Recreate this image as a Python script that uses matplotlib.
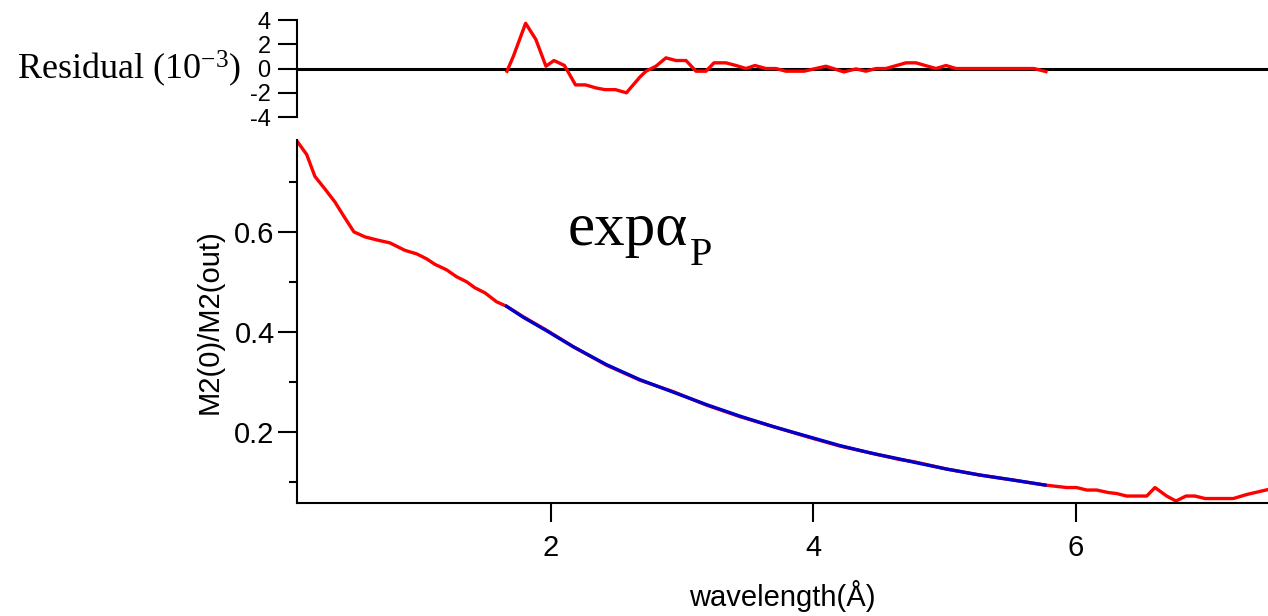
import matplotlib
matplotlib.use("Agg")
import matplotlib.pyplot as plt
from matplotlib.ticker import MultipleLocator

plt.rcParams["font.family"] = ["Liberation Sans", "DejaVu Sans"]
plt.rcParams["axes.unicode_minus"] = False
plt.rcParams["mathtext.fontset"] = "custom"
plt.rcParams["mathtext.rm"] = "Liberation Serif"
plt.rcParams["mathtext.it"] = "Liberation Serif:italic"

# measured curve M2(0)/M2(out) vs wavelength
wavelength = [
    0.065, 0.139, 0.202, 0.278, 0.354, 0.418, 0.499, 0.583, 0.672, 0.773,
    0.888, 0.977, 1.053, 1.116, 1.205, 1.282, 1.358, 1.421, 1.497, 1.586,
    1.662, 1.789, 1.967, 2.170, 2.424, 2.678, 2.932, 3.186, 3.440, 3.694,
    3.948, 4.202, 4.456, 4.659, 4.760, 5.015, 5.269, 5.522, 5.764, 5.929,
    6.005, 6.082, 6.158, 6.246, 6.310, 6.386, 6.539, 6.602, 6.691, 6.762,
    6.838, 6.907, 6.983, 7.199, 7.300, 7.463,
]
ratio = [
    0.783, 0.756, 0.712, 0.687, 0.661, 0.634, 0.601, 0.591, 0.585, 0.579,
    0.564, 0.557, 0.547, 0.536, 0.525, 0.511, 0.501, 0.489, 0.479, 0.461,
    0.452, 0.431, 0.404, 0.371, 0.334, 0.304, 0.281, 0.254, 0.231, 0.211,
    0.191, 0.172, 0.157, 0.145, 0.141, 0.126, 0.114, 0.104, 0.094, 0.089,
    0.089, 0.084, 0.084, 0.079, 0.077, 0.072, 0.072, 0.089, 0.072, 0.062,
    0.072, 0.072, 0.067, 0.067, 0.075, 0.085,
]

# exp alpha_P fit
fit_x = [1.662, 1.789, 1.967, 2.170, 2.424, 2.678, 2.932, 3.186, 3.440,
         3.694, 3.948, 4.202, 4.456, 4.659, 4.760, 5.015, 5.269, 5.522, 5.764]
fit_y = [0.452, 0.430, 0.403, 0.371, 0.335, 0.305, 0.280, 0.255, 0.232,
         0.211, 0.192, 0.173, 0.157, 0.146, 0.140, 0.126, 0.114, 0.104, 0.094]

# residual (units of 1e-3)
res_x = [
    1.665, 1.714, 1.807, 1.885, 1.962, 2.023, 2.103, 2.187, 2.264, 2.343,
    2.411, 2.491, 2.575, 2.678, 2.724, 2.800, 2.876, 2.952, 3.029, 3.105,
    3.181, 3.242, 3.333, 3.410, 3.486, 3.554, 3.638, 3.714, 3.790, 3.928,
    4.095, 4.232, 4.324, 4.400, 4.476, 4.552, 4.705, 4.781, 4.933, 5.010,
    5.086, 5.680, 5.771,
]
res_y = [
    -0.22, 1.02, 3.73, 2.40, 0.19, 0.66, 0.25, -1.35, -1.35, -1.60,
    -1.74, -1.74, -2.00, -0.70, -0.22, 0.19, 0.88, 0.66, 0.66, -0.22,
    -0.22, 0.47, 0.47, 0.25, 0.00, 0.25, 0.00, 0.00, -0.22, -0.22,
    0.19, -0.28, -0.03, -0.22, 0.00, 0.00, 0.47, 0.47, 0.00, 0.25,
    0.00, 0.00, -0.25,
]

XLIM = (0.065, 7.463)

fig = plt.figure(figsize=(12.68, 6.16), dpi=100)
ax = fig.add_axes([0.2342, 0.1834, 0.7658, 0.5893])
ax_res = fig.add_axes([0.2342, 0.810, 0.7658, 0.1575])

# main panel
ax.plot(wavelength, ratio, color="red", lw=2.4, zorder=2)
ax.plot(fit_x, fit_y, color="#0000cc", lw=2.4, zorder=3)
ax.set_xlim(*XLIM)
ax.set_ylim(0.058, 0.785)
for side in ["top", "right"]:
    ax.spines[side].set_visible(False)
for side in ["left", "bottom"]:
    ax.spines[side].set_linewidth(1.5)
ax.xaxis.set_major_locator(MultipleLocator(2))
ax.yaxis.set_major_locator(MultipleLocator(0.2))
ax.yaxis.set_minor_locator(MultipleLocator(0.1))
ax.tick_params(axis="y", which="major", direction="out", length=14, width=1.5,
               labelsize=21, pad=2)
ax.tick_params(axis="y", which="minor", direction="out", length=6, width=1.5)
ax.tick_params(axis="x", which="major", direction="out", length=14, width=1.5,
               labelsize=21, pad=8)
ax.set_xlabel("wavelength(Å)", fontsize=21, labelpad=13)
ax.set_ylabel("M2(0)/M2(out)", fontsize=21, labelpad=8)

# fit label: "expα" with a large, lowered subscript P
fit_label = ax.text(0.279, 0.711, "expα", transform=ax.transAxes,
                    fontsize=44, family="Liberation Serif",
                    ha="left", va="baseline")
ax.annotate("P", xy=(1, 0), xycoords=fit_label, xytext=(1, -5),
            textcoords="offset points", fontsize=29,
            family="Liberation Serif", ha="left", va="baseline")

# residual panel
ax_res.axhline(0, color="black", lw=2.2, zorder=1)
ax_res.plot(res_x, res_y, color="red", lw=2.4, zorder=2)
ax_res.set_xlim(*XLIM)
ax_res.set_ylim(-4, 4)
for side in ["top", "right", "bottom"]:
    ax_res.spines[side].set_visible(False)
ax_res.spines["left"].set_linewidth(1.5)
ax_res.set_xticks([])
ax_res.yaxis.set_major_locator(MultipleLocator(2))
ax_res.tick_params(axis="y", direction="out", length=14, width=1.5,
                   labelsize=17, pad=5)
ax_res.set_ylabel(r"Residual (10$^{\mathregular{-3}}$)", fontsize=26,
                  family="Liberation Serif", rotation=0, ha="right",
                  va="center", labelpad=6)

fig.savefig("out.png", dpi=100)
